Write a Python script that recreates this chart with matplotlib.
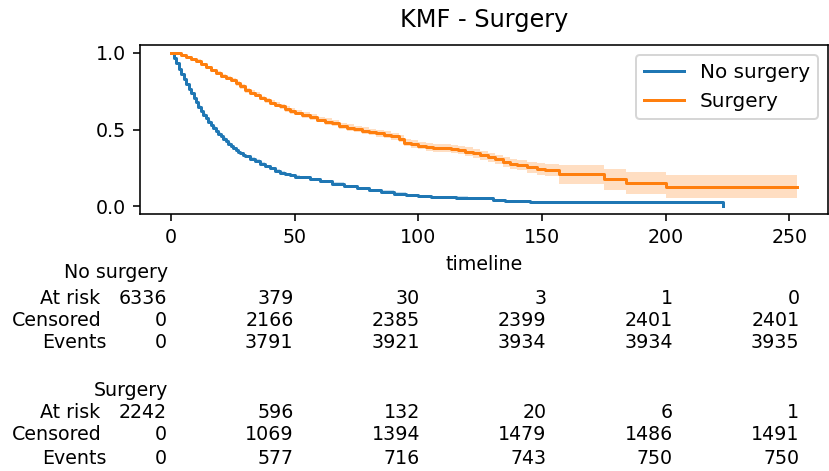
import matplotlib
matplotlib.use('Agg')
import matplotlib.pyplot as plt
import matplotlib.transforms as mtransforms
import numpy as np

plt.rcParams['font.size'] = 9.5

# Kaplan-Meier estimates (survival months), read per group
no_surg_t = [0, 1, 2, 3, 4, 5, 6, 7, 8, 9, 10, 11, 12, 13, 14, 15, 16, 17, 18, 19, 20,
             21, 22, 23, 24, 25, 26, 27, 28, 29, 30,
             32, 34, 36, 38, 40, 42, 44, 46, 48, 50,
             52, 56, 60, 65, 70, 75, 80, 85, 90, 95, 100, 105, 110, 115, 120, 125, 130,
             135, 140, 145, 150, 223]
no_surg_s = [1.0, 0.965, 0.93, 0.895, 0.86, 0.828, 0.796, 0.765, 0.735, 0.705, 0.676,
             0.648, 0.622, 0.597, 0.573, 0.551, 0.53, 0.51, 0.49, 0.472, 0.455, 0.438,
             0.422, 0.405, 0.39, 0.377, 0.365, 0.354, 0.344, 0.334, 0.325,
             0.31, 0.295, 0.278, 0.262, 0.247, 0.232, 0.217, 0.208, 0.201, 0.194,
             0.188, 0.175, 0.162, 0.148, 0.132, 0.118, 0.105, 0.095, 0.083, 0.075, 0.068,
             0.063, 0.060, 0.057, 0.055, 0.052, 0.042, 0.036, 0.032, 0.030, 0.028, 0.002]
no_surg_ci = [0.0, 0.004, 0.005, 0.006, 0.007, 0.008, 0.008, 0.009, 0.009, 0.010, 0.010,
              0.010, 0.011, 0.011, 0.011, 0.011, 0.012, 0.012, 0.012, 0.012, 0.012, 0.012,
              0.012, 0.012, 0.012, 0.012, 0.012, 0.011, 0.011, 0.011, 0.011,
              0.011, 0.011, 0.010, 0.010, 0.010, 0.010, 0.010, 0.009, 0.009, 0.009,
              0.009, 0.009, 0.009, 0.008, 0.008, 0.008, 0.008, 0.008, 0.007, 0.007, 0.007,
              0.007, 0.007, 0.007, 0.007, 0.007, 0.007, 0.007, 0.007, 0.007, 0.007, 0.002]

surg_t = [0, 2, 4, 6, 8, 10, 12, 14, 16, 18, 20, 22, 24, 26, 28, 30, 32, 34, 36, 38, 40,
          42, 44, 46, 48, 50,
          53, 56, 59, 62, 65, 68, 71, 74, 77, 80, 83, 86, 89, 92,
          94, 97, 100, 103, 106, 110, 113, 116, 119, 122, 125, 128, 131, 134, 137, 140,
          144, 148, 151, 157, 175, 184, 200, 253]
surg_s = [1.0, 0.995, 0.985, 0.972, 0.96, 0.948, 0.925, 0.905, 0.885, 0.866, 0.85, 0.835,
          0.82, 0.80, 0.78, 0.755, 0.74, 0.725, 0.705, 0.69, 0.675, 0.662, 0.65, 0.635,
          0.622, 0.61,
          0.595, 0.58, 0.565, 0.552, 0.54, 0.525, 0.512, 0.502, 0.493, 0.484, 0.474,
          0.465, 0.455, 0.44,
          0.415, 0.405, 0.395, 0.385, 0.382, 0.377, 0.372, 0.365, 0.355, 0.345, 0.332,
          0.32, 0.305, 0.29, 0.278, 0.268, 0.255, 0.245, 0.236, 0.21, 0.176, 0.150,
          0.128, 0.128]
surg_ci = [0.0, 0.003, 0.005, 0.006, 0.007, 0.008, 0.009, 0.010, 0.011, 0.012, 0.012,
           0.013, 0.013, 0.014, 0.014, 0.015, 0.015, 0.016, 0.016, 0.016, 0.017, 0.017,
           0.017, 0.018, 0.018, 0.018,
           0.019, 0.019, 0.019, 0.020, 0.020, 0.020, 0.021, 0.021, 0.021, 0.022, 0.022,
           0.022, 0.023, 0.023,
           0.024, 0.024, 0.025, 0.025, 0.026, 0.026, 0.027, 0.027, 0.028, 0.028, 0.029,
           0.030, 0.031, 0.032, 0.033, 0.034, 0.036, 0.038, 0.040, 0.062, 0.068, 0.072,
           0.075, 0.075]

# at-risk table
ticks = [0, 50, 100, 150, 200, 250]
no_surg_at_risk = [6336, 379, 30, 3, 1, 0]
no_surg_censored = [0, 2166, 2385, 2399, 2401, 2401]
no_surg_events = [0, 3791, 3921, 3934, 3934, 3935]
surg_at_risk = [2242, 596, 132, 20, 6, 1]
surg_censored = [0, 1069, 1394, 1479, 1486, 1491]
surg_events = [0, 577, 716, 743, 750, 750]

W, H = 829, 471
fig = plt.figure(figsize=(W / 144, H / 144), dpi=144)
rect = [140 / W, 1 - 214 / H, 688 / W, 169 / H]
ax = fig.add_axes(rect)


def plot_km(t, s, ci, label, color):
    t = np.array(t)
    s = np.array(s)
    ci = np.array(ci)
    ax.fill_between(t, np.clip(s - ci, 0, 1), np.clip(s + ci, 0, 1), step='post',
                    color=color, alpha=0.25, linewidth=0)
    ax.plot(t, s, drawstyle='steps-post', color=color, lw=1.5, label=label)


plot_km(no_surg_t, no_surg_s, no_surg_ci, 'No surgery', 'C0')
plot_km(surg_t, surg_s, surg_ci, 'Surgery', 'C1')

ax.set_xticks(ticks)
ax.set_yticks([0.0, 0.5, 1.0])
ax.set_title('KMF - Surgery', fontsize=12, pad=9)
ax.set_xlabel('timeline')
ax.legend(loc='upper right', fontsize=10)

# hidden twin axis that carries the count columns
ax_tab = fig.add_axes(rect, frameon=False)
ax_tab.set_xlim(-10.7, 261.3)
ax_tab.set_ylim(0, 1)
ax_tab.axis('off')
trans = mtransforms.blended_transform_factory(ax_tab.transData, fig.transFigure)


def add_block(name, name_y, rows, row_y):
    fig.text(168 / W, 1 - name_y / H, name, ha='right', va='center')
    labels = ['At risk', 'Censored', 'Events']
    label_x = [100, 102, 107]
    for lab, lx, vals, py in zip(labels, label_x, rows, row_y):
        fig.text(lx / W, 1 - py / H, lab, ha='right', va='center')
        for tk, v in zip(ticks, vals):
            ax_tab.text(tk, 1 - py / H, str(v), transform=trans, ha='right',
                        va='center')


add_block('No surgery', 273, [no_surg_at_risk, no_surg_censored, no_surg_events],
          [298, 320, 342])
add_block('Surgery', 390, [surg_at_risk, surg_censored, surg_events],
          [412, 435, 458])

fig.savefig('out.png', dpi=144)
